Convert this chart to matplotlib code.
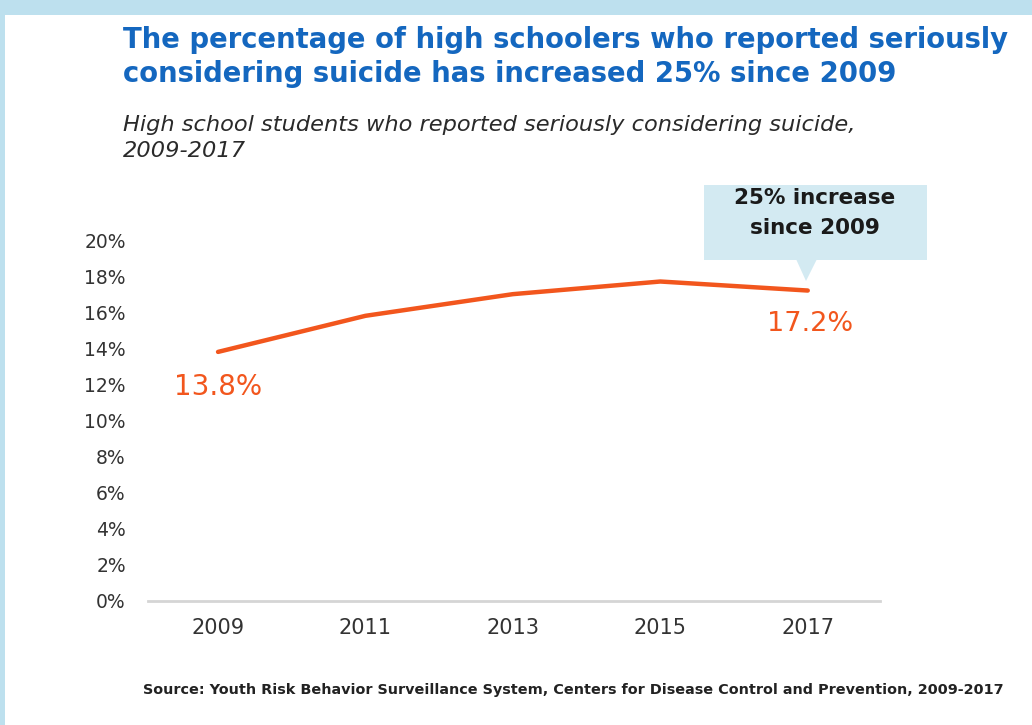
import matplotlib
matplotlib.use("Agg")
import matplotlib.pyplot as plt
from matplotlib.patches import Rectangle, Polygon
from matplotlib.ticker import FuncFormatter

years = [2009, 2011, 2013, 2015, 2017]
pct = [13.8, 15.8, 17.0, 17.7, 17.2]
yticks = [0, 2, 4, 6, 8, 10, 12, 14, 16, 18, 20]

title = "The percentage of high schoolers who reported seriously\nconsidering suicide has increased 25% since 2009"
subtitle = "High school students who reported seriously considering suicide,\n2009-2017"
callout = "25% increase\nsince 2009"
source = "Source: Youth Risk Behavior Surveillance System, Centers for Disease Control and Prevention, 2009-2017"

W, H = 1032, 725
plt.rcParams['font.family'] = ['DejaVu Sans']
fig = plt.figure(figsize=(W / 100, H / 100), dpi=100)
fig.patch.set_facecolor("white")

def fx(px):
    return px / W

def fy(py):
    return 1 - py / H

border = "#BDE0EE"
fig.add_artist(Rectangle((0, fy(15)), 1, 15 / H, transform=fig.transFigure, color=border, lw=0, zorder=0))
fig.add_artist(Rectangle((0, 0), 5 / W, 1, transform=fig.transFigure, color=border, lw=0, zorder=0))

ax = fig.add_axes([fx(148), fy(601), fx(880) - fx(148), fy(240) - fy(601)])
ax.set_xlim(2008.05, 2017.98)
ax.set_ylim(0, 20)
orange = "#F2561D"
ax.plot(years, pct, color=orange, lw=3.2, solid_capstyle="round", clip_on=False, zorder=3)

for s in ["top", "right", "left"]:
    ax.spines[s].set_visible(False)
ax.spines["bottom"].set_color("#D5D5D5")
ax.spines["bottom"].set_linewidth(2)
ax.set_yticks(yticks)
ax.yaxis.set_major_formatter(FuncFormatter(lambda v, p: f"{int(v)}%"))
ax.set_xticks(years)
ax.tick_params(axis="both", length=0, colors="#333333")
ax.tick_params(axis="y", pad=16, labelsize=13.5)
ax.tick_params(axis="x", pad=12, labelsize=15)

ax.annotate(f"{pct[0]}%", xy=(years[0], pct[0]), xytext=(0, -25), textcoords="offset points",
            ha="center", va="center", color=orange, fontsize=20)
ax.annotate(f"{pct[-1]}%", xy=(years[-1], pct[-1]), xytext=(2, -24), textcoords="offset points",
            ha="center", va="center", color=orange, fontsize=19.5)

# callout box
box_c = "#D3EAF2"
fig.add_artist(Rectangle((fx(704), fy(260)), fx(927) - fx(704), fy(185) - fy(260),
                         transform=fig.transFigure, color=box_c, lw=0))
fig.add_artist(Polygon([(fx(796), fy(259)), (fx(817), fy(259)), (fx(806), fy(281))],
                       closed=True, transform=fig.transFigure, color=box_c, lw=0))
fig.text(fx(815), fy(213), callout, ha="center", va="center", fontsize=15.5,
         fontweight="bold", color="#1a1a1a", linespacing=1.6)

fig.text(fx(123), fy(57), title, ha="left", va="center", fontsize=19.8, fontweight="bold",
         color="#1467BF", linespacing=1.28)
fig.text(fx(123), fy(138), subtitle, ha="left", va="center", fontsize=16.2, style="italic",
         color="#2a2a2a", linespacing=1.32)
fig.text(fx(143), fy(690), source, ha="left", va="center", fontsize=10.4, fontweight="bold",
         color="#222222")

fig.savefig("out.png", dpi=100, facecolor="white")
